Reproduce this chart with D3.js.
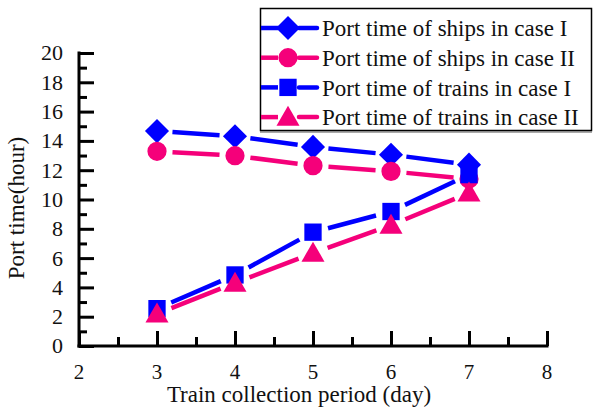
<!DOCTYPE html>
<html>
<head>
<meta charset="utf-8">
<script src="https://cdn.jsdelivr.net/npm/d3@7"></script>
<style>
  html, body { margin: 0; padding: 0; background: #fff; }
  svg { display: block; }
  text { font-family: "Liberation Serif", "Times New Roman", serif; fill: #111; }
</style>
</head>
<body>
<svg id="chart" width="593" height="408"></svg>
<script>
// Train collection period (days)
const periods = [3, 4, 5, 6, 7];

// Port time (hours) for each series
const shipsCaseI   = [14.67, 14.32, 13.59, 13.06, 12.38];
const shipsCaseII  = [13.29, 12.99, 12.31, 11.92, 11.40];
const trainsCaseI  = [2.55, 4.85, 7.77, 9.18, 11.70];
const trainsCaseII = [2.20, 4.30, 6.35, 8.25, 10.45];

const seriesNames = [
  "Port time of ships in case I",
  "Port time of ships in case II",
  "Port time of trains in case I",
  "Port time of trains in case II"
];

const xTicks = [2, 3, 4, 5, 6, 7, 8];
const yTicks = [0, 2, 4, 6, 8, 10, 12, 14, 16, 18, 20];

const xLabel = "Train collection period (day)";
const yLabel = "Port time(hour)";

const BLUE = "#0000ff";
const PINK = "#f5007a";

const series = [
  { name: seriesNames[0], values: shipsCaseI,   color: BLUE, symbol: "diamond" },
  { name: seriesNames[1], values: shipsCaseII,  color: PINK, symbol: "circle" },
  { name: seriesNames[2], values: trainsCaseI,  color: BLUE, symbol: "square" },
  { name: seriesNames[3], values: trainsCaseII, color: PINK, symbol: "triangle" }
];

const svg = d3.select("#chart");

const x = d3.scaleLinear().domain([2, 8]).range([79, 547]);
const y = d3.scaleLinear().domain([0, 20]).range([346, 53]);

// Marker shapes, sized by area
const symbolMap = {
  diamond:  d3.symbol().type(d3.symbolSquare).size(290),
  circle:   d3.symbol().type(d3.symbolCircle).size(290),
  square:   d3.symbol().type(d3.symbolSquare).size(300),
  triangle: d3.symbol().type(d3.symbolTriangle).size(230)
};
function marker(sel, s, cx, cy) {
  const p = sel.append("path")
    .attr("d", symbolMap[s.symbol]())
    .attr("fill", s.color);
  if (s.symbol === "diamond") p.attr("transform", `translate(${cx},${cy}) rotate(45)`);
  else if (s.symbol === "triangle") p.attr("transform", `translate(${cx},${cy + 2})`);
  else p.attr("transform", `translate(${cx},${cy})`);
}

// Axes (ticks drawn inward)
const axisW = 3;
const xAxis = svg.append("g").attr("transform", `translate(0,${y(0)})`);
xAxis.call(d3.axisTop(x).tickValues(xTicks).tickSize(15).tickFormat(""));
xAxis.append("g").call(d3.axisTop(x).tickValues(d3.range(2.5, 8, 1)).tickSize(9).tickFormat(""));
xAxis.selectAll(".domain").remove();
xAxis.selectAll("line").attr("stroke", "#000").attr("stroke-width", axisW);
xAxis.append("line").attr("x1", x(2) - 1.5).attr("x2", x(8) + 1.5)
  .attr("stroke", "#000").attr("stroke-width", axisW);

const yAxis = svg.append("g").attr("transform", `translate(${x(2)},0)`);
yAxis.call(d3.axisRight(y).tickValues(yTicks).tickSize(15).tickFormat(""));
yAxis.append("g").call(d3.axisRight(y).tickValues(d3.range(1, 20, 2)).tickSize(8).tickFormat(""));
yAxis.selectAll(".domain").remove();
yAxis.selectAll("line").attr("stroke", "#000").attr("stroke-width", axisW);
yAxis.append("line").attr("y1", y(20) - 1.5).attr("y2", y(0) + 1.5)
  .attr("stroke", "#000").attr("stroke-width", axisW);

// Tick labels
svg.append("g").selectAll("text").data(xTicks).join("text")
  .attr("x", d => x(d)).attr("y", 379)
  .attr("text-anchor", "middle").attr("font-size", 21)
  .text(d => d);
svg.append("g").selectAll("text").data(yTicks).join("text")
  .attr("x", 63).attr("y", d => y(d)).attr("dy", "0.34em")
  .attr("text-anchor", "end").attr("font-size", 22)
  .text(d => d);

// Axis titles
svg.append("text").attr("x", 299).attr("y", 402)
  .attr("text-anchor", "middle").attr("font-size", 23).text(xLabel);
svg.append("text").attr("transform", "translate(24,208) rotate(-90)")
  .attr("text-anchor", "middle").attr("font-size", 23).text(yLabel);

// Series: line segments with gaps around each marker, then markers
const gap = 15.5;
series.forEach(s => {
  const pts = periods.map((p, i) => [x(p), y(s.values[i])]);
  const g = svg.append("g");
  for (let i = 0; i < pts.length - 1; i++) {
    const [x1, y1] = pts[i], [x2, y2] = pts[i + 1];
    const len = Math.hypot(x2 - x1, y2 - y1);
    const ux = (x2 - x1) / len, uy = (y2 - y1) / len;
    if (len <= 2 * gap) continue;
    g.append("line")
      .attr("x1", x1 + ux * gap).attr("y1", y1 + uy * gap)
      .attr("x2", x2 - ux * gap).attr("y2", y2 - uy * gap)
      .attr("stroke", s.color).attr("stroke-width", 4.5)
      .attr("stroke-linecap", "butt");
  }
});
series.forEach(s => {
  const g = svg.append("g");
  periods.forEach((p, i) => marker(g, s, x(p), y(s.values[i])));
});

// Legend
const legend = svg.append("g");
legend.append("rect").attr("x", 260.5).attr("y", 8.5).attr("width", 331).attr("height", 122)
  .attr("fill", "#fff").attr("stroke", "#000").attr("stroke-width", 1.5);
legend.append("line").attr("x1", 260).attr("x2", 592).attr("y1", 132).attr("y2", 132)
  .attr("stroke", "#555").attr("stroke-width", 1);
series.forEach((s, i) => {
  const cy = 28 + i * 29.7;
  legend.append("line").attr("x1", 261).attr("x2", 278).attr("y1", cy).attr("y2", cy)
    .attr("stroke", s.color).attr("stroke-width", 4.5).attr("stroke-linecap", "butt");
  legend.append("line").attr("x1", 299).attr("x2", 317).attr("y1", cy).attr("y2", cy)
    .attr("stroke", s.color).attr("stroke-width", 4.5).attr("stroke-linecap", "round");
  marker(legend, s, 288, cy);
  legend.append("text").attr("x", 322).attr("y", cy).attr("dy", "0.36em")
    .attr("font-size", 23).text(s.name);
});
</script>
</body>
</html>
